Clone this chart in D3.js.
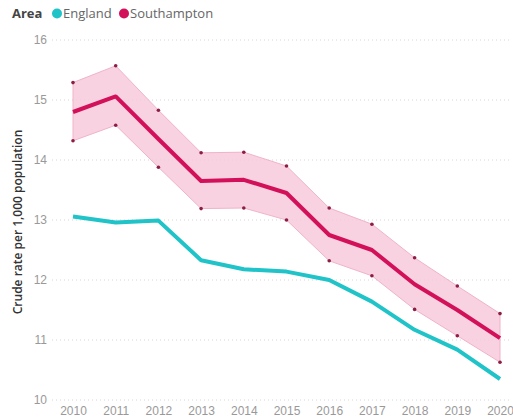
<!DOCTYPE html>
<html>
<head>
<meta charset="utf-8">
<script src="https://cdnjs.cloudflare.com/ajax/libs/d3/7.8.5/d3.min.js"></script>
<style>
  body { margin: 0; background: #fff; }
  svg { font-family: "Open Sans", "Segoe UI", sans-serif; }
</style>
</head>
<body>
<div class="chart"></div>
<script>
var years = [2010, 2011, 2012, 2013, 2014, 2015, 2016, 2017, 2018, 2019, 2020];
var england = [13.06, 12.96, 12.99, 12.33, 12.18, 12.14, 12.0, 11.64, 11.17, 10.84, 10.35];
var southampton = [14.8, 15.06, 14.35, 13.65, 13.67, 13.45, 12.75, 12.5, 11.93, 11.5, 11.03];
var sotonUpper = [15.29, 15.57, 14.83, 14.12, 14.13, 13.9, 13.2, 12.93, 12.37, 11.9, 11.44];
var sotonLower = [14.32, 14.58, 13.88, 13.19, 13.2, 13.0, 12.32, 12.07, 11.51, 11.07, 10.63];
var yTicks = [10, 11, 12, 13, 14, 15, 16];

var svgWidth = 513;
var svgHeight = 418;

var engColor = "#1fc3c8";
var sotColor = "#d3105a";

var svg = d3.select(".chart")
    .append("svg")
    .attr("width", svgWidth)
    .attr("height", svgHeight);

var x = d3.scaleLinear().domain([2010, 2020]).range([73, 500]);
var y = d3.scaleLinear().domain([10, 16]).range([400, 40]);

// gridlines
svg.append("g")
    .selectAll("line")
    .data(yTicks)
    .enter()
    .append("line")
    .attr("x1", 52)
    .attr("x2", 510)
    .attr("y1", d => y(d))
    .attr("y2", d => y(d))
    .attr("stroke", "#d6d6d6")
    .attr("stroke-width", 1)
    .attr("stroke-dasharray", "1,3");

// y axis labels
var leftAxis = d3.axisLeft(y).tickValues(yTicks).tickFormat(d3.format("d")).tickSize(0).tickPadding(0);
var yAxisG = svg.append("g")
    .attr("transform", "translate(47,0)")
    .call(leftAxis);
yAxisG.select(".domain").remove();
yAxisG.selectAll("text")
    .attr("fill", "#999")
    .style("font-size", "12px");

// x axis labels
var bottomAxis = d3.axisBottom(x).tickValues(years).tickFormat(d3.format("d")).tickSize(0).tickPadding(0);
var xAxisG = svg.append("g")
    .attr("transform", "translate(0,406)")
    .call(bottomAxis);
xAxisG.select(".domain").remove();
xAxisG.selectAll("text")
    .attr("fill", "#999")
    .style("font-size", "12px");

// y axis title
svg.append("text")
    .attr("transform", "translate(22,222) rotate(-90)")
    .attr("text-anchor", "middle")
    .attr("fill", "#333")
    .style("font-size", "12px")
    .style("font-weight", "600")
    .text("Crude rate per 1,000 population");

// confidence band
var band = years.map((yr, i) => ({ yr: yr, lo: sotonLower[i], hi: sotonUpper[i] }));
svg.append("path")
    .datum(band)
    .attr("fill", "#f7cadb")
    .attr("fill-opacity", 0.85)
    .attr("stroke", "#f0b3c9")
    .attr("stroke-width", 1)
    .attr("d", d3.area()
        .x(d => x(d.yr))
        .y0(d => y(d.lo))
        .y1(d => y(d.hi)));

var boundPts = band.flatMap(d => [{ yr: d.yr, v: d.lo }, { yr: d.yr, v: d.hi }]);
svg.append("g")
    .selectAll("circle")
    .data(boundPts)
    .enter()
    .append("circle")
    .attr("cx", d => x(d.yr))
    .attr("cy", d => y(d.v))
    .attr("r", 1.8)
    .attr("fill", "#8e1d45");

var line = d3.line()
    .x(d => x(d[0]))
    .y(d => y(d[1]));

// England line
svg.append("path")
    .datum(years.map((yr, i) => [yr, england[i]]))
    .attr("fill", "none")
    .attr("stroke", engColor)
    .attr("stroke-width", 4)
    .attr("stroke-linejoin", "round")
    .attr("d", line);

// Southampton line
svg.append("path")
    .datum(years.map((yr, i) => [yr, southampton[i]]))
    .attr("fill", "none")
    .attr("stroke", sotColor)
    .attr("stroke-width", 4)
    .attr("stroke-linejoin", "round")
    .attr("d", line);

// legend
var legend = svg.append("g").attr("transform", "translate(12,18)");
legend.append("text")
    .attr("x", 0)
    .attr("y", 0)
    .attr("fill", "#444")
    .style("font-size", "13px")
    .style("font-weight", "700")
    .text("Area");
legend.append("circle").attr("cx", 45).attr("cy", -4.5).attr("r", 5).attr("fill", engColor);
legend.append("text")
    .attr("x", 51)
    .attr("y", 0)
    .attr("fill", "#666")
    .style("font-size", "13px")
    .text("England");
legend.append("circle").attr("cx", 112).attr("cy", -4.5).attr("r", 5).attr("fill", sotColor);
legend.append("text")
    .attr("x", 118)
    .attr("y", 0)
    .attr("fill", "#666")
    .style("font-size", "13px")
    .text("Southampton");
</script>
</body>
</html>
